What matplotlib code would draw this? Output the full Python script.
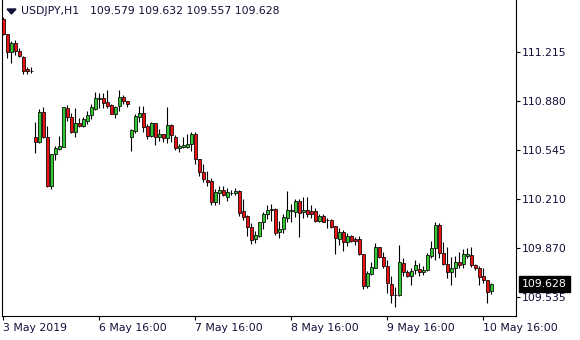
import matplotlib
matplotlib.use("Agg")
import matplotlib.pyplot as plt
import matplotlib.transforms as mtransforms
from matplotlib.patches import Polygon
import numpy as np

# USDJPY H1 candles, 3 May 2019 16:00 -> 10 May 2019 18:00
symbol = "USDJPY,H1"
opens = [
    111.435, 111.336, 111.215, 111.272, 111.219, 111.180, 111.094, 111.086,
    110.631, 110.595, 110.802, 110.629, 110.296, 110.515, 110.549, 110.565,
    110.828, 110.766, 110.668, 110.729, 110.707, 110.743, 110.780, 110.821,
    110.893, 110.896, 110.869, 110.850, 110.791, 110.841, 110.903, 110.877,
    110.633, 110.674, 110.770, 110.793, 110.707, 110.638, 110.725, 110.629,
    110.650, 110.622, 110.713, 110.631, 110.556, 110.560, 110.566, 110.581,
    110.652, 110.478, 110.390, 110.337, 110.331, 110.185, 110.252, 110.269,
    110.219, 110.252, 110.246, 110.262, 110.125, 110.091, 110.016, 109.932,
    109.955, 110.048, 110.103, 110.130, 110.139, 109.980, 110.002, 110.081,
    110.125, 110.121, 110.194, 110.117, 110.132, 110.125, 110.125, 110.059,
    110.093, 110.064, 110.064, 110.023, 109.934, 109.982, 109.916, 109.955,
    109.932, 109.932, 109.829, 109.613, 109.695, 109.738, 109.877, 109.813,
    109.751, 109.626, 109.551, 109.551, 109.772, 109.706, 109.683, 109.722,
    109.729, 109.710, 109.722, 109.821, 109.870, 110.030, 109.836, 109.761,
    109.706, 109.734, 109.775, 109.761, 109.818, 109.825, 109.756, 109.738,
    109.681, 109.654, 109.579,
]
highs = [
    111.452, 111.339, 111.288, 111.295, 111.238, 111.185, 111.112, 111.108,
    110.734, 110.821, 110.834, 110.707, 110.515, 110.570, 110.638, 110.839,
    110.850, 110.795, 110.832, 110.759, 110.768, 110.809, 110.854, 110.936,
    110.930, 110.930, 110.953, 110.857, 110.845, 110.953, 110.919, 110.880,
    110.683, 110.787, 110.843, 110.843, 110.720, 110.736, 110.730, 110.684,
    110.652, 110.839, 110.720, 110.645, 110.587, 110.631, 110.655, 110.668,
    110.668, 110.484, 110.447, 110.401, 110.351, 110.276, 110.296, 110.300,
    110.286, 110.269, 110.281, 110.266, 110.211, 110.095, 110.047, 109.989,
    110.052, 110.121, 110.170, 110.175, 110.143, 110.057, 110.108, 110.262,
    110.173, 110.208, 110.211, 110.218, 110.218, 110.166, 110.144, 110.105,
    110.103, 110.076, 110.069, 110.026, 110.007, 109.999, 109.973, 109.961,
    109.950, 109.955, 109.831, 109.717, 109.779, 109.909, 109.879, 109.847,
    109.790, 109.681, 109.608, 109.893, 109.802, 109.722, 109.738, 109.790,
    109.768, 109.749, 109.840, 109.920, 110.048, 110.041, 109.916, 109.881,
    109.813, 109.820, 109.847, 109.866, 109.870, 109.877, 109.761, 109.751,
    109.734, 109.657, 109.632,
]
lows = [
    111.329, 111.171, 111.139, 111.192, 111.180, 111.062, 111.062, 111.071,
    110.524, 110.593, 110.627, 110.287, 110.274, 110.474, 110.543, 110.563,
    110.741, 110.661, 110.629, 110.702, 110.702, 110.720, 110.756, 110.818,
    110.828, 110.828, 110.832, 110.787, 110.759, 110.811, 110.855, 110.839,
    110.538, 110.661, 110.736, 110.668, 110.618, 110.633, 110.577, 110.604,
    110.599, 110.588, 110.599, 110.543, 110.532, 110.556, 110.556, 110.538,
    110.447, 110.368, 110.324, 110.296, 110.166, 110.166, 110.171, 110.231,
    110.197, 110.235, 110.238, 110.091, 110.064, 109.955, 109.898, 109.905,
    109.950, 110.000, 110.072, 110.057, 109.961, 109.943, 109.975, 110.052,
    110.050, 110.084, 109.950, 110.079, 110.084, 110.076, 110.052, 110.052,
    110.048, 110.007, 110.007, 109.829, 109.893, 109.854, 109.886, 109.916,
    109.893, 109.825, 109.590, 109.597, 109.688, 109.734, 109.806, 109.734,
    109.563, 109.499, 109.471, 109.544, 109.681, 109.676, 109.620, 109.695,
    109.683, 109.688, 109.717, 109.802, 109.790, 109.806, 109.756, 109.665,
    109.620, 109.676, 109.734, 109.738, 109.806, 109.745, 109.722, 109.620,
    109.631, 109.494, 109.557,
]
closes = [
    111.334, 111.215, 111.272, 111.221, 111.187, 111.085, 111.081, 111.084,
    110.599, 110.802, 110.629, 110.296, 110.515, 110.554, 110.570, 110.834,
    110.766, 110.668, 110.729, 110.709, 110.752, 110.785, 110.836, 110.896,
    110.896, 110.866, 110.845, 110.791, 110.839, 110.903, 110.875, 110.855,
    110.679, 110.775, 110.793, 110.702, 110.640, 110.729, 110.629, 110.652,
    110.622, 110.713, 110.645, 110.556, 110.570, 110.577, 110.584, 110.652,
    110.478, 110.390, 110.344, 110.326, 110.187, 110.255, 110.269, 110.235,
    110.255, 110.250, 110.262, 110.115, 110.088, 110.013, 109.927, 109.961,
    110.048, 110.103, 110.132, 110.141, 109.975, 110.002, 110.086, 110.132,
    110.132, 110.194, 110.115, 110.132, 110.105, 110.103, 110.059, 110.093,
    110.052, 110.061, 110.018, 109.939, 109.980, 109.916, 109.955, 109.922,
    109.920, 109.829, 109.613, 109.700, 109.741, 109.877, 109.813, 109.749,
    109.631, 109.551, 109.549, 109.779, 109.710, 109.683, 109.717, 109.754,
    109.706, 109.722, 109.825, 109.870, 110.030, 109.836, 109.761, 109.706,
    109.738, 109.775, 109.756, 109.829, 109.829, 109.756, 109.734, 109.676,
    109.654, 109.574, 109.628,
]

x_tick_bars = [0, 24, 48, 72, 96, 120]
x_tick_labels = ["3 May 2019", "6 May 16:00", "7 May 16:00",
                 "8 May 16:00", "9 May 16:00", "10 May 16:00"]
y_ticks = [109.535, 109.870, 110.210, 110.545, 110.880, 111.215]

BULL = "#32c832"
BEAR = "#ee1111"
TEXT = "#10103a"
FS = 7.8

W, H = 580, 340
fig = plt.figure(figsize=(W / 100, H / 100), dpi=100)
fig.patch.set_facecolor("white")
ax = fig.add_axes([2 / W, 24 / H, 514 / W, 316 / H])
ax.set_facecolor("white")

o = np.array(opens)
h = np.array(highs)
l = np.array(lows)
c = np.array(closes)
idx = np.arange(len(o))
up = c >= o

ax.vlines(idx, l, h, color="black", linewidth=0.8, zorder=2)
ax.bar(idx[up], (c - o)[up], bottom=o[up], width=0.75, color=BULL,
       edgecolor="black", linewidth=0.55, zorder=3)
ax.bar(idx[~up], (o - c)[~up], bottom=c[~up], width=0.75, color=BEAR,
       edgecolor="black", linewidth=0.55, zorder=3)

ax.set_xlim(-0.25, 128.25)
ax.set_ylim(109.408, 111.568)

# axes frame like the terminal: left, right, bottom
ax.spines["top"].set_visible(False)
for s in ("left", "right", "bottom"):
    ax.spines[s].set_color("black")
    ax.spines[s].set_linewidth(0.8)

ax.yaxis.tick_right()
ax.set_yticks(y_ticks)
ax.set_yticklabels([f"{v:.3f}" for v in y_ticks])
ax.tick_params(axis="y", direction="out", length=3, width=0.8, pad=1.5,
               labelsize=FS, labelcolor=TEXT, color="black")

ax.set_xticks(x_tick_bars)
ax.set_xticklabels(x_tick_labels, ha="left")
ax.tick_params(axis="x", direction="out", length=3, width=0.8, pad=2,
               labelsize=FS, labelcolor=TEXT, color="black")
for lab in ax.get_xticklabels():
    lab.set_horizontalalignment("left")

# current price tag
trans = mtransforms.blended_transform_factory(ax.transAxes, ax.transData)
ax.text(1 + 6 / 514, closes[-1], f"{closes[-1]:.3f}", transform=trans,
        ha="left", va="center", fontsize=FS, color="white",
        bbox=dict(boxstyle="square,pad=0.3", fc="black", ec="black"),
        clip_on=False, zorder=5)

# header
tri = Polygon([[7 / W, 1 - 9 / H], [16 / W, 1 - 9 / H], [11.5 / W, 1 - 14 / H]],
              closed=True, transform=fig.transFigure, color=TEXT)
fig.patches.append(tri)
fig.text(21 / W, 1 - 11.5 / H, symbol, fontsize=FS, color=TEXT, va="center", ha="left")
fig.text(90 / W, 1 - 11.5 / H,
         f"{opens[-1]:.3f} {highs[-1]:.3f} {lows[-1]:.3f} {closes[-1]:.3f}",
         fontsize=FS, color=TEXT, va="center", ha="left")

fig.savefig("out.png", dpi=100, facecolor="white")
